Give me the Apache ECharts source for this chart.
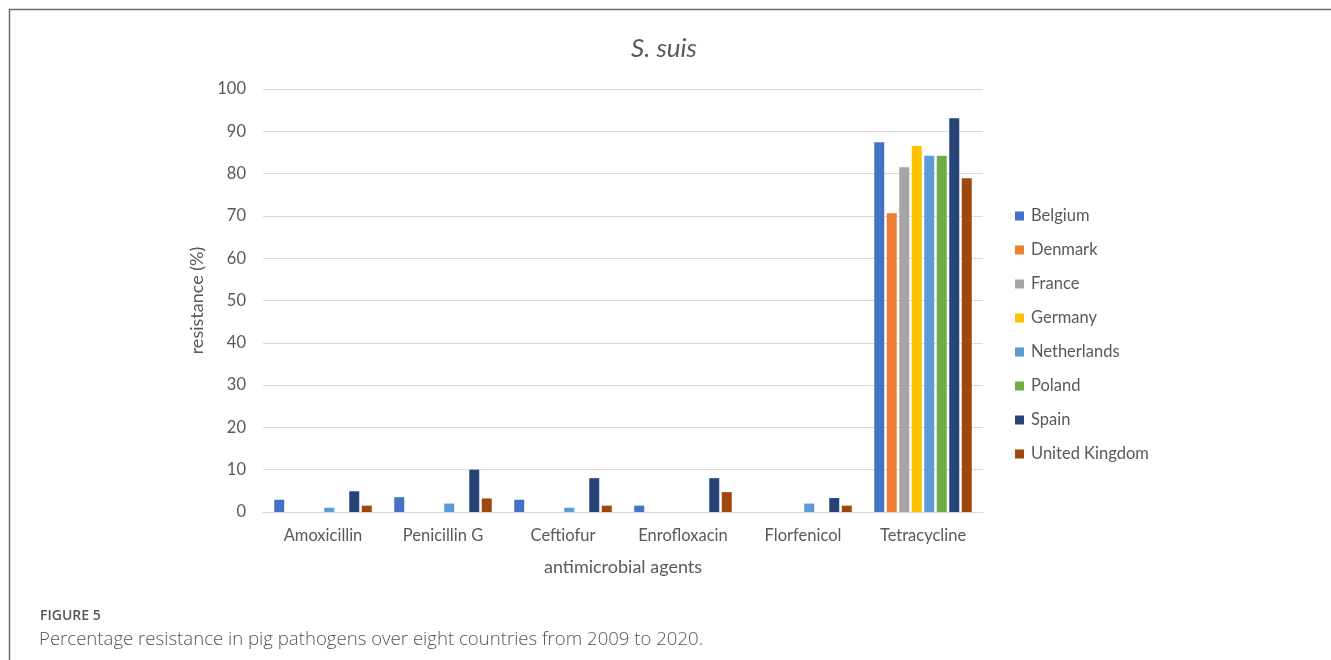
<!DOCTYPE html>
<html>
<head>
<meta charset="utf-8">
<script src="https://cdn.jsdelivr.net/npm/echarts@6/dist/echarts.min.js"></script>
<style>
  html, body { margin: 0; padding: 0; background: #ffffff; }
  #chart { width: 1331px; height: 660px; }
</style>
</head>
<body>
<div id="chart"></div>
<script>
// Antimicrobial agents tested
const agents = ['Amoxicillin', 'Penicillin G', 'Ceftiofur', 'Enrofloxacin', 'Florfenicol', 'Tetracycline'];

// Resistance (%) per country, in the order of the agents above
const belgium     = [2.9, 3.5, 2.9, 1.5, 0,   87.4];
const denmark     = [0,   0,   0,   0,   0,   70.6];
const france      = [0,   0,   0,   0,   0,   81.5];
const germany     = [0,   0,   0,   0,   0,   86.5];
const netherlands = [1.0, 2.0, 1.0, 0,   2.0, 84.2];
const poland      = [0,   0,   0,   0,   0,   84.2];
const spain       = [4.9, 10.0, 8.0, 8.0, 3.3, 93.1];
const unitedKingdom = [1.5, 3.2, 1.5, 4.7, 1.5, 78.9];

const yTicks = { min: 0, max: 100, step: 10 };

const countries = [
  { name: 'Belgium',        data: belgium,       color: '#4472C4' },
  { name: 'Denmark',        data: denmark,       color: '#ED7D31' },
  { name: 'France',         data: france,        color: '#A5A5A5' },
  { name: 'Germany',        data: germany,       color: '#FFC000' },
  { name: 'Netherlands',    data: netherlands,   color: '#5B9BD5' },
  { name: 'Poland',         data: poland,        color: '#70AD47' },
  { name: 'Spain',          data: spain,         color: '#264478' },
  { name: 'United Kingdom', data: unitedKingdom, color: '#9E480E' }
];

const FONT = 'Lato, "Open Sans", sans-serif';
const GREY = '#595959';

const chart = echarts.init(document.getElementById('chart'), null, { renderer: 'canvas' });

chart.setOption({
  backgroundColor: '#ffffff',
  animation: false,
  textStyle: { fontFamily: FONT },
  title: [
    {
      text: 'S. suis',
      left: 664, top: 36, textAlign: 'center', padding: 0,
      textStyle: { fontFamily: FONT, fontStyle: 'italic', fontWeight: 'normal', fontSize: 26, color: GREY }
    },
    {
      text: 'FIGURE 5',
      left: 40, top: 609, padding: 0,
      textStyle: { fontFamily: '"Open Sans", sans-serif', fontWeight: 600, fontSize: 14, color: '#555555' }
    },
    {
      text: 'Percentage resistance in pig pathogens over eight countries from 2009 to 2020.',
      left: 39, top: 630, padding: 0,
      textStyle: { fontFamily: '"Open Sans", sans-serif', fontWeight: 300, fontSize: 18.6, color: '#555555' }
    }
  ],
  graphic: [
    {
      type: 'polyline',
      shape: { points: [[9.5, 660], [9.5, 9.5], [1331, 9.5]] },
      style: { stroke: '#6b6b78', lineWidth: 1.5, fill: null },
      silent: true
    }
  ],
  legend: {
    orient: 'vertical',
    left: 1015, top: 206,
    padding: 0,
    icon: 'rect',
    itemWidth: 9, itemHeight: 9,
    itemGap: 14,
    textStyle: { fontFamily: FONT, fontSize: 16.5, color: GREY, lineHeight: 20, padding: [0, 0, 0, 2] },
    data: countries.map(c => c.name)
  },
  grid: { left: 263, right: 348, top: 89, bottom: 148, containLabel: false },
  xAxis: {
    type: 'category',
    data: agents,
    name: 'antimicrobial agents',
    nameLocation: 'middle',
    nameGap: 46,
    nameTextStyle: { fontFamily: FONT, fontSize: 18, color: GREY },
    axisLine: { show: true, lineStyle: { color: '#d9d9d9', width: 1 } },
    axisTick: { show: false },
    axisLabel: { fontFamily: FONT, fontSize: 16.5, color: GREY, margin: 15 }
  },
  yAxis: {
    type: 'value',
    min: yTicks.min, max: yTicks.max, interval: yTicks.step,
    name: 'resistance (%)',
    nameLocation: 'middle',
    nameGap: 49,
    nameTextStyle: { fontFamily: FONT, fontSize: 18, color: GREY },
    axisLine: { show: false },
    axisTick: { show: false },
    axisLabel: { fontFamily: FONT, fontSize: 16.5, color: GREY, margin: 17 },
    splitLine: { lineStyle: { color: '#d9d9d9', width: 1 } }
  },
  series: countries.map(c => ({
    name: c.name,
    type: 'bar',
    data: c.data,
    barWidth: 10,
    barGap: '25%',
    itemStyle: { color: c.color },
    emphasis: { disabled: true }
  }))
});
</script>
</body>
</html>
